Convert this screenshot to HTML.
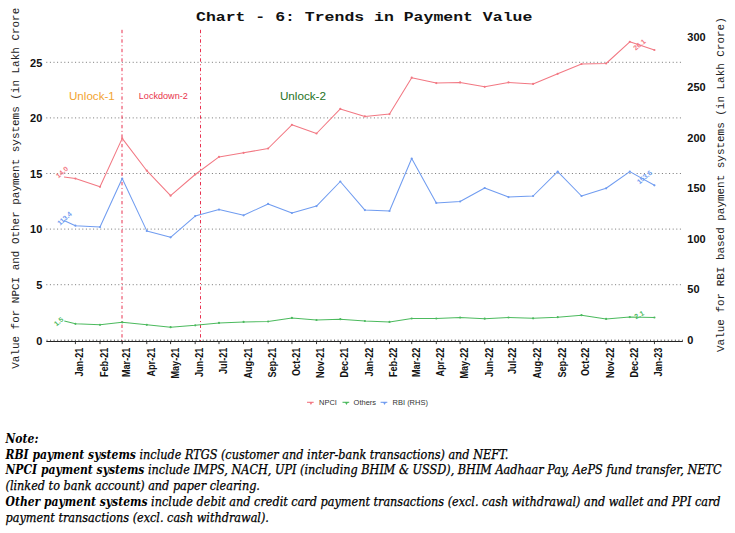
<!DOCTYPE html>
<html><head><meta charset="utf-8"><style>
html,body{margin:0;padding:0;background:#fff;width:735px;height:533px;overflow:hidden}
svg{position:absolute;left:0;top:0}
.grid{stroke:#777;stroke-width:1;stroke-dasharray:1 2.6}
.tl{font:bold 10px "Liberation Sans",Arial,sans-serif;fill:#111}
.xl{font:bold 9.1px "Liberation Sans",Arial,sans-serif;fill:#111}
.ev{stroke:#e8304f;stroke-width:1;stroke-dasharray:3.4 2.55 1 2.56}
.ev1{font:11.6px "Liberation Sans",Arial,sans-serif;fill:#f2a431}
.ev2{font:9.1px "Liberation Sans",Arial,sans-serif;fill:#e8334c}
.ev3{font:11.7px "Liberation Sans",Arial,sans-serif;fill:#267326}
.s{fill:none;stroke-width:1.05;stroke-linejoin:round}
.dl{font:bold 6.9px "Liberation Sans",Arial,sans-serif}
.at{font:10.94px "Liberation Mono","Courier New",monospace;fill:#222}
.title{font:bold 16.5px "Liberation Mono","Courier New",monospace;fill:#111}
.lg{font:6.5px "Liberation Sans",Arial,sans-serif;fill:#333}
.note{position:absolute;left:5.5px;top:430.8px;width:730px;font:italic 12.52px/15.8px "DejaVu Serif Condensed","DejaVu Serif",serif;color:#000;-webkit-text-stroke:0.25px #000}
.note div{height:15.76px;white-space:nowrap}
.note b{line-height:1;font-weight:bold;font-size:12.0px;-webkit-text-stroke:0}
</style></head><body>
<svg width="735" height="533" viewBox="0 0 735 533">
<line x1="46.3" y1="284.7" x2="682.8" y2="284.7" class="grid"/>
<line x1="46.3" y1="229.1" x2="682.8" y2="229.1" class="grid"/>
<line x1="46.3" y1="173.5" x2="682.8" y2="173.5" class="grid"/>
<line x1="46.3" y1="117.9" x2="682.8" y2="117.9" class="grid"/>
<line x1="46.3" y1="62.3" x2="682.8" y2="62.3" class="grid"/>
<text transform="translate(42.3,344.5) scale(1.1,1)" class="tl" text-anchor="end">0</text>
<text transform="translate(42.3,288.9) scale(1.1,1)" class="tl" text-anchor="end">5</text>
<text transform="translate(42.3,233.3) scale(1.1,1)" class="tl" text-anchor="end">10</text>
<text transform="translate(42.3,177.7) scale(1.1,1)" class="tl" text-anchor="end">15</text>
<text transform="translate(42.3,122.1) scale(1.1,1)" class="tl" text-anchor="end">20</text>
<text transform="translate(42.3,66.5) scale(1.1,1)" class="tl" text-anchor="end">25</text>
<text transform="translate(687.3,343.6) scale(1.1,1)" class="tl">0</text>
<text transform="translate(687.3,293.1) scale(1.1,1)" class="tl">50</text>
<text transform="translate(687.3,242.6) scale(1.1,1)" class="tl">100</text>
<text transform="translate(687.3,192.1) scale(1.1,1)" class="tl">150</text>
<text transform="translate(687.3,141.7) scale(1.1,1)" class="tl">200</text>
<text transform="translate(687.3,91.2) scale(1.1,1)" class="tl">250</text>
<text transform="translate(687.3,40.7) scale(1.1,1)" class="tl">300</text>
<line x1="122.0" y1="29.8" x2="122.0" y2="341" class="ev"/>
<line x1="200.5" y1="29.8" x2="200.5" y2="341" class="ev"/>
<text x="69.0" y="100.1" class="ev1">Unlock-1</text>
<text x="138.8" y="99" class="ev2">Lockdown-2</text>
<text x="279.9" y="100.1" class="ev3">Unlock-2</text>
<line x1="46.3" y1="341.5" x2="682.8" y2="341.5" stroke="#222" stroke-width="1"/>
<path d="M47.00 339.6v1.6 M50.55 339.6v1.6 M54.10 339.6v1.6 M57.65 339.6v1.6 M61.20 339.6v1.6 M64.75 339.6v1.6 M68.30 339.6v1.6 M71.85 339.6v1.6 M75.40 339.6v1.6 M78.95 339.6v1.6 M82.50 339.6v1.6 M86.05 339.6v1.6 M89.60 339.6v1.6 M93.15 339.6v1.6 M96.70 339.6v1.6 M100.25 339.6v1.6 M103.80 339.6v1.6 M107.35 339.6v1.6 M110.90 339.6v1.6 M114.45 339.6v1.6 M118.00 339.6v1.6 M121.55 339.6v1.6 M125.10 339.6v1.6 M128.65 339.6v1.6 M132.20 339.6v1.6 M135.75 339.6v1.6 M139.30 339.6v1.6 M142.85 339.6v1.6 M146.40 339.6v1.6 M149.95 339.6v1.6 M153.50 339.6v1.6 M157.05 339.6v1.6 M160.60 339.6v1.6 M164.15 339.6v1.6 M167.70 339.6v1.6 M171.25 339.6v1.6 M174.80 339.6v1.6 M178.35 339.6v1.6 M181.90 339.6v1.6 M185.45 339.6v1.6 M189.00 339.6v1.6 M192.55 339.6v1.6 M196.10 339.6v1.6 M199.65 339.6v1.6 M203.20 339.6v1.6 M206.75 339.6v1.6 M210.30 339.6v1.6 M213.85 339.6v1.6 M217.40 339.6v1.6 M220.95 339.6v1.6 M224.50 339.6v1.6 M228.05 339.6v1.6 M231.60 339.6v1.6 M235.15 339.6v1.6 M238.70 339.6v1.6 M242.25 339.6v1.6 M245.80 339.6v1.6 M249.35 339.6v1.6 M252.90 339.6v1.6 M256.45 339.6v1.6 M260.00 339.6v1.6 M263.55 339.6v1.6 M267.10 339.6v1.6 M270.65 339.6v1.6 M274.20 339.6v1.6 M277.75 339.6v1.6 M281.30 339.6v1.6 M284.85 339.6v1.6 M288.40 339.6v1.6 M291.95 339.6v1.6 M295.50 339.6v1.6 M299.05 339.6v1.6 M302.60 339.6v1.6 M306.15 339.6v1.6 M309.70 339.6v1.6 M313.25 339.6v1.6 M316.80 339.6v1.6 M320.35 339.6v1.6 M323.90 339.6v1.6 M327.45 339.6v1.6 M331.00 339.6v1.6 M334.55 339.6v1.6 M338.10 339.6v1.6 M341.65 339.6v1.6 M345.20 339.6v1.6 M348.75 339.6v1.6 M352.30 339.6v1.6 M355.85 339.6v1.6 M359.40 339.6v1.6 M362.95 339.6v1.6 M366.50 339.6v1.6 M370.05 339.6v1.6 M373.60 339.6v1.6 M377.15 339.6v1.6 M380.70 339.6v1.6 M384.25 339.6v1.6 M387.80 339.6v1.6 M391.35 339.6v1.6 M394.90 339.6v1.6 M398.45 339.6v1.6 M402.00 339.6v1.6 M405.55 339.6v1.6 M409.10 339.6v1.6 M412.65 339.6v1.6 M416.20 339.6v1.6 M419.75 339.6v1.6 M423.30 339.6v1.6 M426.85 339.6v1.6 M430.40 339.6v1.6 M433.95 339.6v1.6 M437.50 339.6v1.6 M441.05 339.6v1.6 M444.60 339.6v1.6 M448.15 339.6v1.6 M451.70 339.6v1.6 M455.25 339.6v1.6 M458.80 339.6v1.6 M462.35 339.6v1.6 M465.90 339.6v1.6 M469.45 339.6v1.6 M473.00 339.6v1.6 M476.55 339.6v1.6 M480.10 339.6v1.6 M483.65 339.6v1.6 M487.20 339.6v1.6 M490.75 339.6v1.6 M494.30 339.6v1.6 M497.85 339.6v1.6 M501.40 339.6v1.6 M504.95 339.6v1.6 M508.50 339.6v1.6 M512.05 339.6v1.6 M515.60 339.6v1.6 M519.15 339.6v1.6 M522.70 339.6v1.6 M526.25 339.6v1.6 M529.80 339.6v1.6 M533.35 339.6v1.6 M536.90 339.6v1.6 M540.45 339.6v1.6 M544.00 339.6v1.6 M547.55 339.6v1.6 M551.10 339.6v1.6 M554.65 339.6v1.6 M558.20 339.6v1.6 M561.75 339.6v1.6 M565.30 339.6v1.6 M568.85 339.6v1.6 M572.40 339.6v1.6 M575.95 339.6v1.6 M579.50 339.6v1.6 M583.05 339.6v1.6 M586.60 339.6v1.6 M590.15 339.6v1.6 M593.70 339.6v1.6 M597.25 339.6v1.6 M600.80 339.6v1.6 M604.35 339.6v1.6 M607.90 339.6v1.6 M611.45 339.6v1.6 M615.00 339.6v1.6 M618.55 339.6v1.6 M622.10 339.6v1.6 M625.65 339.6v1.6 M629.20 339.6v1.6 M632.75 339.6v1.6 M636.30 339.6v1.6 M639.85 339.6v1.6 M643.40 339.6v1.6 M646.95 339.6v1.6 M650.50 339.6v1.6 M654.05 339.6v1.6 M657.60 339.6v1.6 M661.15 339.6v1.6 M664.70 339.6v1.6 M668.25 339.6v1.6 M671.80 339.6v1.6 M675.35 339.6v1.6 M678.90 339.6v1.6 M682.45 339.6v1.6" stroke="#444" stroke-width="0.8"/>
<path d="M75.40 341.5v2.6 M99.99 341.5v2.6 M122.20 341.5v2.6 M146.79 341.5v2.6 M170.58 341.5v2.6 M195.17 341.5v2.6 M218.97 341.5v2.6 M243.56 341.5v2.6 M268.15 341.5v2.6 M291.94 341.5v2.6 M316.53 341.5v2.6 M340.33 341.5v2.6 M364.92 341.5v2.6 M389.51 341.5v2.6 M411.72 341.5v2.6 M436.31 341.5v2.6 M460.10 341.5v2.6 M484.69 341.5v2.6 M508.49 341.5v2.6 M533.08 341.5v2.6 M557.67 341.5v2.6 M581.46 341.5v2.6 M606.05 341.5v2.6 M629.85 341.5v2.6 M654.44 341.5v2.6" stroke="#222" stroke-width="0.9"/>
<text transform="translate(83.3,347.7) scale(1.16,1) rotate(-90)" class="xl" text-anchor="end">Jan-21</text>
<text transform="translate(107.9,347.7) scale(1.16,1) rotate(-90)" class="xl" text-anchor="end">Feb-21</text>
<text transform="translate(130.1,347.7) scale(1.16,1) rotate(-90)" class="xl" text-anchor="end">Mar-21</text>
<text transform="translate(154.7,347.7) scale(1.16,1) rotate(-90)" class="xl" text-anchor="end">Apr-21</text>
<text transform="translate(178.5,347.7) scale(1.16,1) rotate(-90)" class="xl" text-anchor="end">May-21</text>
<text transform="translate(203.1,347.7) scale(1.16,1) rotate(-90)" class="xl" text-anchor="end">Jun-21</text>
<text transform="translate(226.9,347.7) scale(1.16,1) rotate(-90)" class="xl" text-anchor="end">Jul-21</text>
<text transform="translate(251.5,347.7) scale(1.16,1) rotate(-90)" class="xl" text-anchor="end">Aug-21</text>
<text transform="translate(276.0,347.7) scale(1.16,1) rotate(-90)" class="xl" text-anchor="end">Sep-21</text>
<text transform="translate(299.8,347.7) scale(1.16,1) rotate(-90)" class="xl" text-anchor="end">Oct-21</text>
<text transform="translate(324.4,347.7) scale(1.16,1) rotate(-90)" class="xl" text-anchor="end">Nov-21</text>
<text transform="translate(348.2,347.7) scale(1.16,1) rotate(-90)" class="xl" text-anchor="end">Dec-21</text>
<text transform="translate(372.8,347.7) scale(1.16,1) rotate(-90)" class="xl" text-anchor="end">Jan-22</text>
<text transform="translate(397.4,347.7) scale(1.16,1) rotate(-90)" class="xl" text-anchor="end">Feb-22</text>
<text transform="translate(419.6,347.7) scale(1.16,1) rotate(-90)" class="xl" text-anchor="end">Mar-22</text>
<text transform="translate(444.2,347.7) scale(1.16,1) rotate(-90)" class="xl" text-anchor="end">Apr-22</text>
<text transform="translate(468.0,347.7) scale(1.16,1) rotate(-90)" class="xl" text-anchor="end">May-22</text>
<text transform="translate(492.6,347.7) scale(1.16,1) rotate(-90)" class="xl" text-anchor="end">Jun-22</text>
<text transform="translate(516.4,347.7) scale(1.16,1) rotate(-90)" class="xl" text-anchor="end">Jul-22</text>
<text transform="translate(541.0,347.7) scale(1.16,1) rotate(-90)" class="xl" text-anchor="end">Aug-22</text>
<text transform="translate(565.6,347.7) scale(1.16,1) rotate(-90)" class="xl" text-anchor="end">Sep-22</text>
<text transform="translate(589.4,347.7) scale(1.16,1) rotate(-90)" class="xl" text-anchor="end">Oct-22</text>
<text transform="translate(614.0,347.7) scale(1.16,1) rotate(-90)" class="xl" text-anchor="end">Nov-22</text>
<text transform="translate(637.7,347.7) scale(1.16,1) rotate(-90)" class="xl" text-anchor="end">Dec-22</text>
<text transform="translate(662.3,347.7) scale(1.16,1) rotate(-90)" class="xl" text-anchor="end">Jan-23</text>
<polyline points="64.0,177.1 75.4,178.6 100.0,186.8 122.2,138.4 146.8,170.7 170.6,195.7 195.2,174.5 219.0,156.9 243.6,152.8 268.1,148.5 291.9,124.8 316.5,133.5 340.3,108.9 364.9,116.4 389.5,114.1 411.7,77.7 436.3,83.1 460.1,82.4 484.7,86.8 508.5,82.4 533.1,83.9 557.7,73.8 581.5,64.0 606.1,63.5 629.8,41.8 654.4,50.0" class="s" stroke="#f27883"/>
<polyline points="64.0,220.6 75.4,225.7 100.0,227.0 122.2,178.5 146.8,230.9 170.6,237.3 195.2,216.1 219.0,209.6 243.6,215.3 268.1,203.9 291.9,213.0 316.5,206.1 340.3,181.5 364.9,210.1 389.5,211.0 411.7,158.5 436.3,202.9 460.1,201.5 484.7,188.0 508.5,197.1 533.1,196.0 557.7,171.6 581.5,196.0 606.1,188.3 629.8,171.6 654.4,185.3" class="s" stroke="#709cf0"/>
<polyline points="64.3,321.1 75.4,323.8 100.0,324.8 122.2,322.3 146.8,324.8 170.6,327.2 195.2,325.3 219.0,322.9 243.6,321.9 268.1,321.5 291.9,317.9 316.5,320.0 340.3,319.2 364.9,321.0 389.5,321.9 411.7,318.5 436.3,318.5 460.1,317.5 484.7,318.7 508.5,317.5 533.1,318.3 557.7,317.2 581.5,315.2 606.1,318.9 629.8,317.1 654.4,317.5" class="s" stroke="#4cba5e"/>
<circle cx="75.4" cy="178.6" r="1.1" fill="#f27883"/><circle cx="100.0" cy="186.8" r="1.1" fill="#f27883"/><circle cx="122.2" cy="138.4" r="1.1" fill="#f27883"/><circle cx="146.8" cy="170.7" r="1.1" fill="#f27883"/><circle cx="170.6" cy="195.7" r="1.1" fill="#f27883"/><circle cx="195.2" cy="174.5" r="1.1" fill="#f27883"/><circle cx="219.0" cy="156.9" r="1.1" fill="#f27883"/><circle cx="243.6" cy="152.8" r="1.1" fill="#f27883"/><circle cx="268.1" cy="148.5" r="1.1" fill="#f27883"/><circle cx="291.9" cy="124.8" r="1.1" fill="#f27883"/><circle cx="316.5" cy="133.5" r="1.1" fill="#f27883"/><circle cx="340.3" cy="108.9" r="1.1" fill="#f27883"/><circle cx="364.9" cy="116.4" r="1.1" fill="#f27883"/><circle cx="389.5" cy="114.1" r="1.1" fill="#f27883"/><circle cx="411.7" cy="77.7" r="1.1" fill="#f27883"/><circle cx="436.3" cy="83.1" r="1.1" fill="#f27883"/><circle cx="460.1" cy="82.4" r="1.1" fill="#f27883"/><circle cx="484.7" cy="86.8" r="1.1" fill="#f27883"/><circle cx="508.5" cy="82.4" r="1.1" fill="#f27883"/><circle cx="533.1" cy="83.9" r="1.1" fill="#f27883"/><circle cx="557.7" cy="73.8" r="1.1" fill="#f27883"/><circle cx="581.5" cy="64.0" r="1.1" fill="#f27883"/><circle cx="606.1" cy="63.5" r="1.1" fill="#f27883"/><circle cx="629.8" cy="41.8" r="1.1" fill="#f27883"/><circle cx="654.4" cy="50.0" r="1.1" fill="#f27883"/>
<circle cx="75.4" cy="225.7" r="1.1" fill="#709cf0"/><circle cx="100.0" cy="227.0" r="1.1" fill="#709cf0"/><circle cx="122.2" cy="178.5" r="1.1" fill="#709cf0"/><circle cx="146.8" cy="230.9" r="1.1" fill="#709cf0"/><circle cx="170.6" cy="237.3" r="1.1" fill="#709cf0"/><circle cx="195.2" cy="216.1" r="1.1" fill="#709cf0"/><circle cx="219.0" cy="209.6" r="1.1" fill="#709cf0"/><circle cx="243.6" cy="215.3" r="1.1" fill="#709cf0"/><circle cx="268.1" cy="203.9" r="1.1" fill="#709cf0"/><circle cx="291.9" cy="213.0" r="1.1" fill="#709cf0"/><circle cx="316.5" cy="206.1" r="1.1" fill="#709cf0"/><circle cx="340.3" cy="181.5" r="1.1" fill="#709cf0"/><circle cx="364.9" cy="210.1" r="1.1" fill="#709cf0"/><circle cx="389.5" cy="211.0" r="1.1" fill="#709cf0"/><circle cx="411.7" cy="158.5" r="1.1" fill="#709cf0"/><circle cx="436.3" cy="202.9" r="1.1" fill="#709cf0"/><circle cx="460.1" cy="201.5" r="1.1" fill="#709cf0"/><circle cx="484.7" cy="188.0" r="1.1" fill="#709cf0"/><circle cx="508.5" cy="197.1" r="1.1" fill="#709cf0"/><circle cx="533.1" cy="196.0" r="1.1" fill="#709cf0"/><circle cx="557.7" cy="171.6" r="1.1" fill="#709cf0"/><circle cx="581.5" cy="196.0" r="1.1" fill="#709cf0"/><circle cx="606.1" cy="188.3" r="1.1" fill="#709cf0"/><circle cx="629.8" cy="171.6" r="1.1" fill="#709cf0"/><circle cx="654.4" cy="185.3" r="1.1" fill="#709cf0"/>
<circle cx="75.4" cy="323.8" r="1.1" fill="#4cba5e"/><circle cx="100.0" cy="324.8" r="1.1" fill="#4cba5e"/><circle cx="122.2" cy="322.3" r="1.1" fill="#4cba5e"/><circle cx="146.8" cy="324.8" r="1.1" fill="#4cba5e"/><circle cx="170.6" cy="327.2" r="1.1" fill="#4cba5e"/><circle cx="195.2" cy="325.3" r="1.1" fill="#4cba5e"/><circle cx="219.0" cy="322.9" r="1.1" fill="#4cba5e"/><circle cx="243.6" cy="321.9" r="1.1" fill="#4cba5e"/><circle cx="268.1" cy="321.5" r="1.1" fill="#4cba5e"/><circle cx="291.9" cy="317.9" r="1.1" fill="#4cba5e"/><circle cx="316.5" cy="320.0" r="1.1" fill="#4cba5e"/><circle cx="340.3" cy="319.2" r="1.1" fill="#4cba5e"/><circle cx="364.9" cy="321.0" r="1.1" fill="#4cba5e"/><circle cx="389.5" cy="321.9" r="1.1" fill="#4cba5e"/><circle cx="411.7" cy="318.5" r="1.1" fill="#4cba5e"/><circle cx="436.3" cy="318.5" r="1.1" fill="#4cba5e"/><circle cx="460.1" cy="317.5" r="1.1" fill="#4cba5e"/><circle cx="484.7" cy="318.7" r="1.1" fill="#4cba5e"/><circle cx="508.5" cy="317.5" r="1.1" fill="#4cba5e"/><circle cx="533.1" cy="318.3" r="1.1" fill="#4cba5e"/><circle cx="557.7" cy="317.2" r="1.1" fill="#4cba5e"/><circle cx="581.5" cy="315.2" r="1.1" fill="#4cba5e"/><circle cx="606.1" cy="318.9" r="1.1" fill="#4cba5e"/><circle cx="629.8" cy="317.1" r="1.1" fill="#4cba5e"/><circle cx="654.4" cy="317.5" r="1.1" fill="#4cba5e"/>
<text transform="translate(63.6,174.0) rotate(-42)" class="dl" fill="#f27883" text-anchor="middle">14.0</text>
<text transform="translate(66.2,220.2) rotate(-42)" class="dl" fill="#709cf0" text-anchor="middle">113.4</text>
<text transform="translate(60.2,323.4) rotate(-40)" class="dl" fill="#4cba5e" text-anchor="middle">1.5</text>
<text transform="translate(641,46.5) rotate(-40)" class="dl" fill="#f27883" text-anchor="middle">26.1</text>
<text transform="translate(646,179) rotate(-40)" class="dl" fill="#709cf0" text-anchor="middle">153.6</text>
<text transform="translate(640.3,317) rotate(-28)" class="dl" fill="#4cba5e" text-anchor="middle">2.1</text>
<text transform="translate(18.7,368.8) rotate(-90)" class="at">Value for NPCI and Other payment systems (in Lakh Crore</text>
<text transform="translate(723.6,352) rotate(-90)" class="at">Value for RBI based payment systems (in Lakh Crore)</text>
<text transform="translate(196,20.9) scale(1,0.74)" class="title">Chart - 6: Trends in Payment Value</text>
<line x1="307.0" y1="402.3" x2="313.7" y2="402.3" stroke="#f27883" stroke-width="1.1"/><path d="M309.3 402 L312.7 402 L310.90000000000003 405Z" fill="#f27883"/>
<text transform="translate(319,404.7) scale(1.15,1)" class="lg">NPCI</text>
<line x1="342.5" y1="402.3" x2="349.2" y2="402.3" stroke="#4cba5e" stroke-width="1.1"/><path d="M344.8 402 L348.2 402 L346.40000000000003 405Z" fill="#4cba5e"/>
<text transform="translate(353.6,404.7) scale(1.15,1)" class="lg">Others</text>
<line x1="380.59999999999997" y1="402.3" x2="387.29999999999995" y2="402.3" stroke="#709cf0" stroke-width="1.1"/><path d="M382.9 402 L386.29999999999995 402 L384.5 405Z" fill="#709cf0"/>
<text transform="translate(392.6,404.7) scale(1.15,1)" class="lg">RBI (RHS)</text>
</svg>
<div class="note">
<div><b>Note:</b></div>
<div><b>RBI payment systems</b> include RTGS (customer and inter-bank transactions) and NEFT.</div>
<div><b>NPCI payment systems</b> include IMPS, NACH, UPI (including BHIM &amp; USSD), BHIM Aadhaar Pay, AePS fund transfer, NETC</div>
<div>(linked to bank account) and paper clearing.</div>
<div><b>Other payment systems</b> include debit and credit card payment transactions (excl. cash withdrawal) and wallet and PPI card</div>
<div>payment transactions (excl. cash withdrawal).</div>
</div>
</body></html>
